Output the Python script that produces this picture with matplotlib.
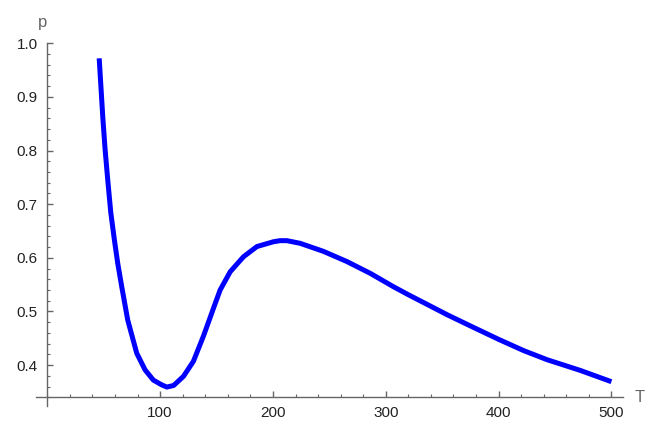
import numpy as np
import matplotlib
matplotlib.use("Agg")
import matplotlib.pyplot as plt
from matplotlib.ticker import MultipleLocator

# values
T = [46.0, 47.4, 49.2, 51.2, 53.6, 56.3, 59.5, 62.5, 66.0, 71.3, 79.3, 86.7, 94.0,
     101.5, 106.0, 112.0, 120.7, 129.5, 138.4, 147.3, 153.2, 162.1, 173.9,
     185.8, 200.5, 206.4, 212.4, 224.2, 244.8, 265.6, 286.3, 306.9, 320.2,
     354.3, 375.0, 400.0, 422.2, 443.0, 472.5, 500.0]
p = [0.972, 0.924, 0.862, 0.803, 0.745, 0.684, 0.633, 0.589, 0.546, 0.484, 0.422,
     0.391, 0.372, 0.363, 0.359, 0.362, 0.379, 0.407, 0.454, 0.506, 0.540,
     0.574, 0.602, 0.621, 0.630, 0.632, 0.632, 0.627, 0.612, 0.593, 0.571,
     0.546, 0.531, 0.494, 0.473, 0.448, 0.427, 0.410, 0.390, 0.369]

x_ticks = [100, 200, 300, 400, 500]
y_ticks = [0.4, 0.5, 0.6, 0.7, 0.8, 0.9, 1.0]

axis_col = "#666666"

fig = plt.figure(figsize=(6.58, 4.40), dpi=100)
ax = fig.add_axes([36/658, 34/440, (622.7-36)/658, (406-43.3)/440])

ax.plot(T, p, color="#0000ff", lw=3.6, solid_joinstyle="round", solid_capstyle="butt")

ax.set_xlim(-10, 510)
ax.set_ylim(0.3237, 1.0)

ax.spines["top"].set_visible(False)
ax.spines["right"].set_visible(False)
ax.spines["left"].set_position(("data", 0))
ax.spines["bottom"].set_position(("data", 0.34))
for s in ("left", "bottom"):
    ax.spines[s].set_color(axis_col)
    ax.spines[s].set_linewidth(1.0)

ax.set_xticks(x_ticks)
ax.set_xticklabels([str(v) for v in x_ticks])
ax.set_yticks(y_ticks)
ax.set_yticklabels(["%.1f" % v for v in y_ticks])
ax.xaxis.set_minor_locator(MultipleLocator(20))
ax.yaxis.set_minor_locator(MultipleLocator(0.02))

ax.tick_params(which="both", direction="in", color=axis_col, labelsize=11,
               labelcolor="#222222")
ax.tick_params(which="major", length=4, width=1)
ax.tick_params(which="minor", length=2.5, width=0.8)
ax.tick_params(axis="x", which="major", pad=6)
ax.tick_params(axis="y", which="major", pad=7)
for lab in ax.get_xticklabels() + ax.get_yticklabels():
    lab.set_family("Liberation Sans")

fig.text(640/658, 1 - 397/440, "T", color=axis_col, fontsize=12,
         family="Liberation Sans", ha="center", va="center")
fig.text(43/658, 1 - 22/440, "p", color=axis_col, fontsize=12,
         family="Liberation Sans", ha="center", va="center")

fig.savefig("out.png", dpi=100)
